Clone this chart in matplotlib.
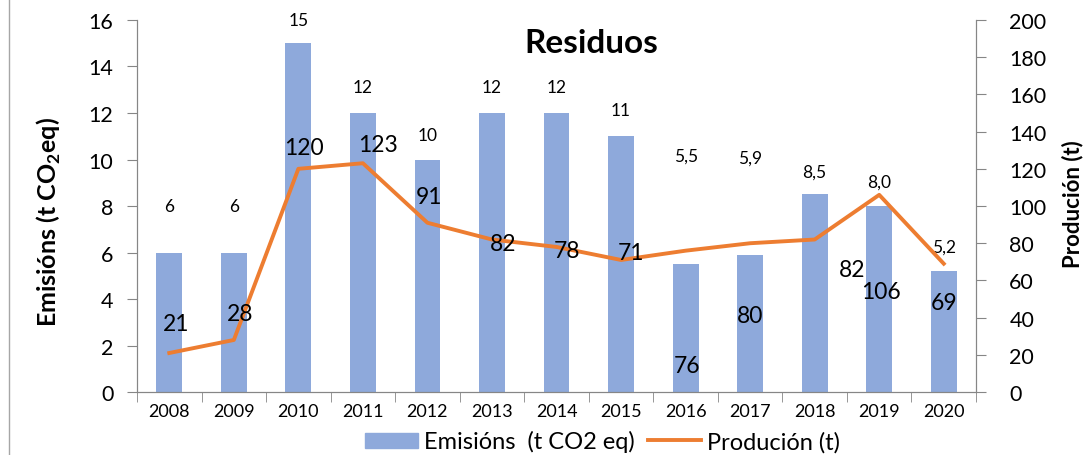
import numpy as np
import matplotlib.pyplot as plt
from matplotlib.lines import Line2D
from matplotlib.patches import Patch

plt.rcParams["font.family"] = ["Lato", "DejaVu Sans"]

years = ["2008", "2009", "2010", "2011", "2012", "2013", "2014",
         "2015", "2016", "2017", "2018", "2019", "2020"]
emisions = [6, 6, 15, 12, 10, 12, 12, 11, 5.5, 5.9, 8.5, 8.0, 5.2]
emision_labels = ["6", "6", "15", "12", "10", "12", "12", "11",
                  "5,5", "5,9", "8,5", "8,0", "5,2"]
producion = [21, 28, 120, 123, 91, 82, 78, 71, 76, 80, 82, 106, 69]

# where Excel happened to drop the data labels (axis units)
bar_label_y = [8.0, 8.0, 16.0, 13.1, 11.05, 13.1, 13.1, 12.13,
               10.15, 10.1, 9.5, 9.03, 6.24]
line_label_dx = [0.1, 0.1, 0.08, 0.23, 0.02, 0.18, 0.17, 0.15,
                 0.02, 0.0, 0.58, 0.02, 0.0]
line_label_y = [36.6, 42.0, 131.7, 133.0, 105.0, 79.6, 76.0, 75.0,
                14.5, 41.0, 66.0, 54.0, 48.0]

grey = "#868686"
x = np.arange(len(years))

fig = plt.figure(figsize=(10.84, 4.56), dpi=100)
ax = fig.add_axes([0.1264, 0.138, 0.774, 0.816])
ax2 = ax.twinx()

ax.bar(x, emisions, width=0.4, color="#8EA9DB", zorder=2)
ax2.plot(x, producion, color="#ED7D31", lw=2.8, zorder=3)

ax.set_xlim(-0.5, len(years) - 0.5)
ax.set_ylim(0, 16)
ax2.set_ylim(0, 200)
ax.set_yticks(range(0, 17, 2))
ax2.set_yticks(range(0, 201, 20))
ax.set_xticks(x)
ax.set_xticklabels(years, fontsize=13)
ax.set_xticks(np.arange(-0.5, len(years), 1), minor=True)
ax.tick_params(axis="x", which="major", length=0, pad=8)
ax.tick_params(axis="x", which="minor", length=7, color=grey)
ax.tick_params(axis="y", length=7, color=grey, labelsize=15.5, pad=10)
ax2.tick_params(axis="y", length=7, color=grey, labelsize=15.5, pad=17)

for a in (ax, ax2):
    a.spines["top"].set_visible(False)
    for s in ("left", "right", "bottom"):
        a.spines[s].set_color(grey)

ax.set_ylabel(r"Emisións (t CO$_\mathregular{2}$eq)", fontsize=18,
              fontweight="bold")
ax.yaxis.label.set_va("center")
ax.yaxis.set_label_coords(-0.105, 0.46)
ax2.set_ylabel("Produción (t)", fontsize=16, fontweight="bold")
ax2.yaxis.label.set_va("center")
ax2.yaxis.set_label_coords(1.115, 0.509)

ax.text(0.542, 0.94, "Residuos", transform=ax.transAxes, ha="center",
        va="center", fontsize=24, fontweight="bold", zorder=5)

for i in range(len(years)):
    ax.text(x[i], bar_label_y[i], emision_labels[i], ha="center",
            va="center", fontsize=12.5, zorder=5)
    ax2.text(x[i] + line_label_dx[i], line_label_y[i], str(producion[i]),
             ha="center", va="center", fontsize=16.5, zorder=5)

handles = [Patch(color="#8EA9DB"), Line2D([], [], color="#ED7D31", lw=2.8)]
fig.legend(handles, ["Emisións  (t CO2 eq)", "Produción (t)"],
           loc="center", bbox_to_anchor=(0.556, 0.03), ncol=2,
           frameon=False, fontsize=17, handlelength=2.25, handleheight=0.6,
           columnspacing=0.55, handletextpad=0.25, borderpad=0)

fig.add_artist(Line2D([0.0083, 0.0083], [0, 1], color="#A6A6A6", lw=1))

fig.savefig("out.png", dpi=100)
